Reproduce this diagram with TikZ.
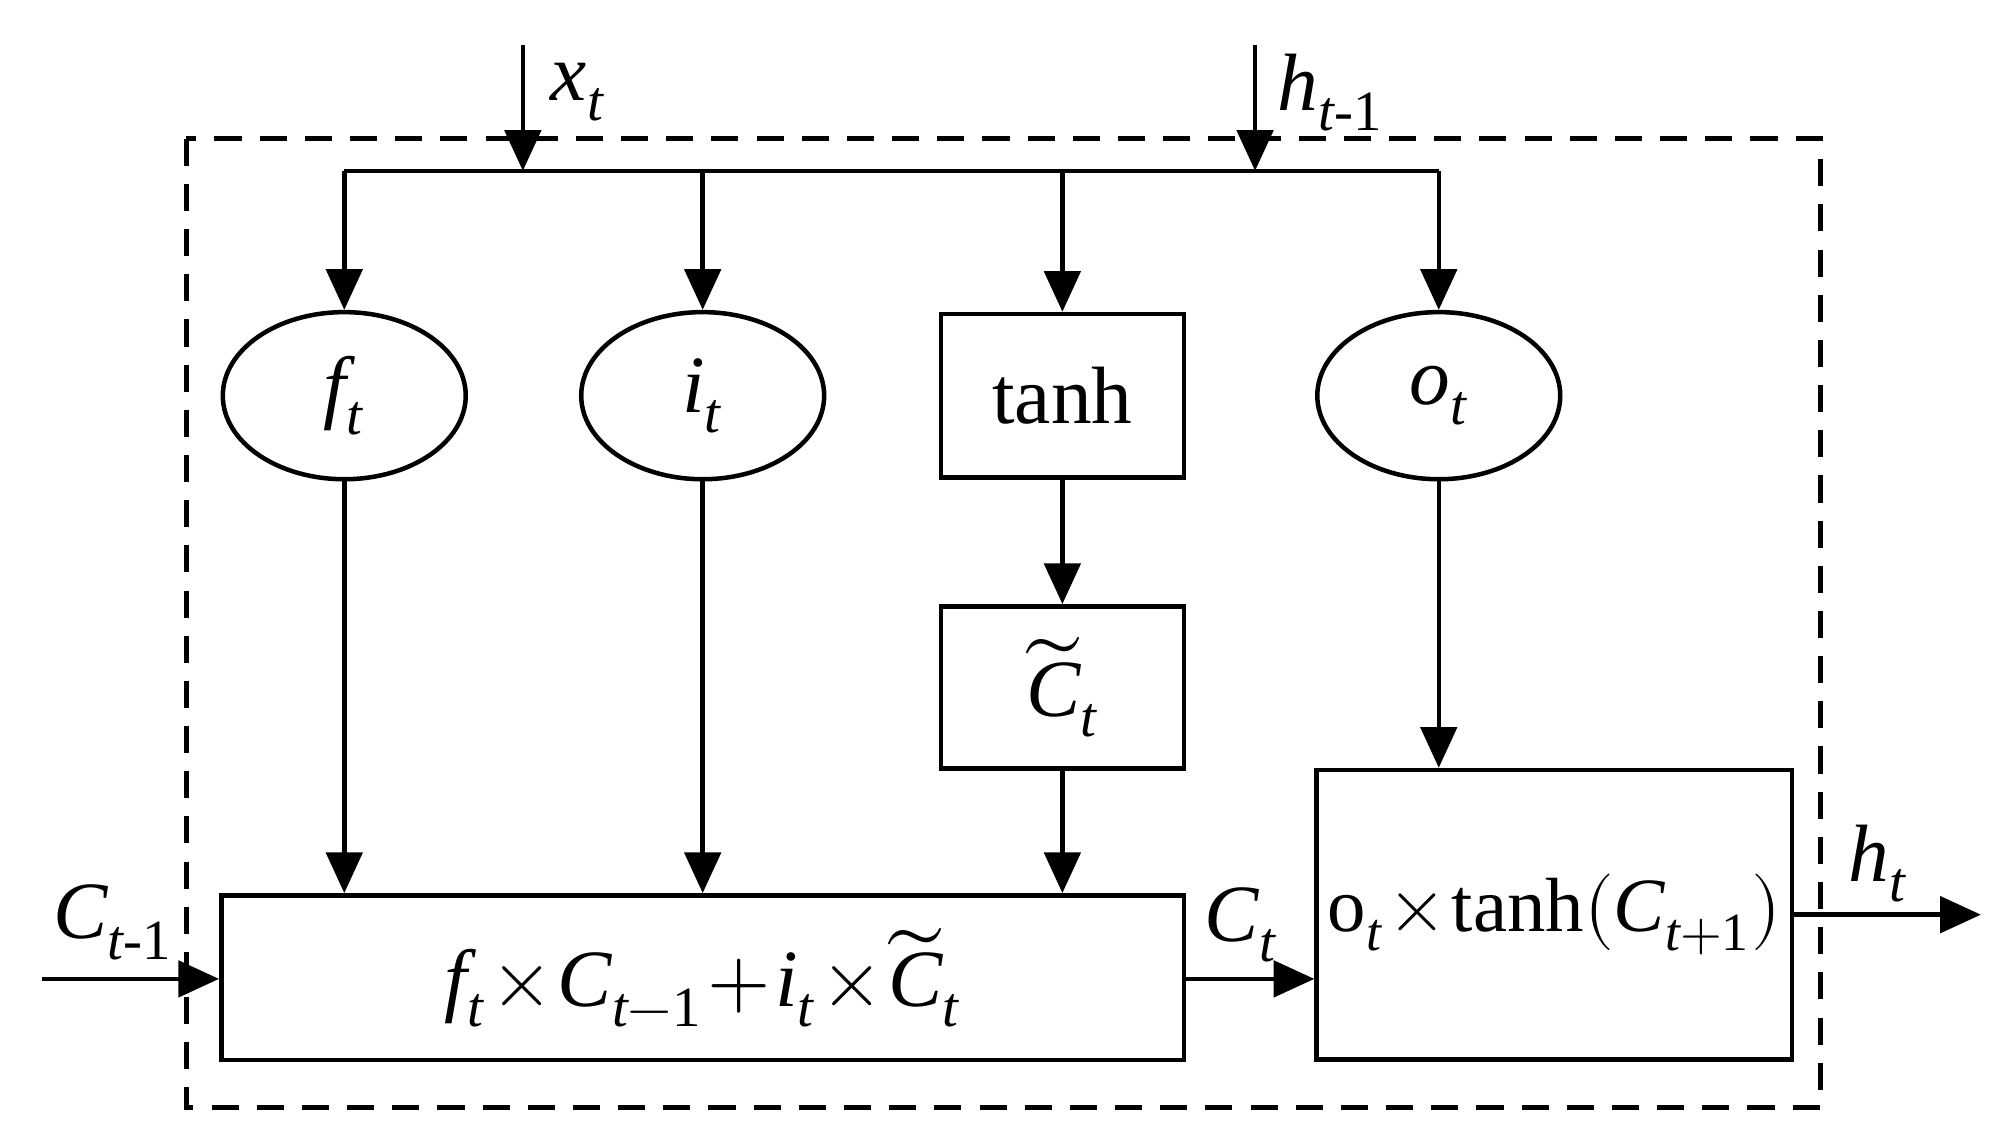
\documentclass[tikz,border=0pt]{standalone}
\usepackage{fontspec}
\setmainfont{Liberation Serif}
\usepackage{unicode-math}
\setmathfont{Latin Modern Math}
\setmathfont[range=it/{latin,Latin}]{Liberation Serif Italic}
\setmathfont[range=up/{latin,Latin,num}]{Liberation Serif}
\usetikzlibrary{arrows.meta,shapes.geometric}
\begin{document}
\begin{tikzpicture}[x=0.01cm,y=-0.01cm,
  every node/.style={font=\fontsize{18}{21}\selectfont},
  ln/.style={line width=1pt},
  ar/.style={ln,-{Triangle[length=9pt,width=8pt]}},
  box/.style={draw,ln,inner sep=0}]
\useasboundingbox (0,0) rectangle (1560,890);
\draw[ln,dashed,dash pattern=on 6pt off 4pt] (145,108) rectangle (1417,862);
% nodes
\node[draw,ln,ellipse,minimum width=1.89cm,minimum height=1.3cm] (f) at (268,308) {$f_t$};
\node[draw,ln,ellipse,minimum width=1.89cm,minimum height=1.3cm] (i) at (547,308) {$i_t$};
\node[draw,ln,ellipse,minimum width=1.89cm,minimum height=1.3cm] (o) at (1120,308) {$o_t$};
\node[box,minimum width=1.89cm,minimum height=1.27cm] (tanh) at (827,308) {tanh};
\node[box,minimum width=1.89cm,minimum height=1.26cm] (ct) at (827,535) {$\widetilde{C}_t$};
\node[box,minimum width=7.49cm,minimum height=1.28cm] (big) at (547,761) {\medmuskip=1mu\thickmuskip=1mu$f_t\times C_{t-1}+i_t\times \widetilde{C}_t$};
\node[box,minimum width=3.70cm,minimum height=2.25cm,text width=3.6cm,align=center,font=\fontsize{17}{20}\selectfont] (out) at (1210,712) {\medmuskip=1mu o$_t\times\mathrm{tanh}(C_{t+1})$};
% bus
\coordinate (b1) at (268,133); \coordinate (b4) at (1120,133);
\coordinate (xs) at (407,35); \coordinate (xe) at (407,133);
\coordinate (hs) at (977,35); \coordinate (he) at (977,133);
\draw[ln] (b1) -- (b4);
\draw[ar] (xs) -- (xe);
\draw[ar] (hs) -- (he);
\node at (450,72) {$x_t$};
\node at (1036,72) {$h_{t\text{-}1}$};
\draw[ar] (b1) -- (f.north);
\draw[ar] (547,133) -- (i.north);
\draw[ar] (827,133) -- (tanh.north);
\draw[ar] (b4) -- (o.north);
\draw[ar] (f.south) -- (f.south |- big.north);
\draw[ar] (i.south) -- (i.south |- big.north);
\draw[ar] (tanh) -- (ct);
\draw[ar] (ct) -- (ct.south |- big.north);
\draw[ar] (o.south) -- (out.north -| o.south);
\coordinate (cin) at (33,762);
\draw[ar] (cin) -- (big.west |- cin);
\node at (88,718) {$C_{t\text{-}1}$};
\draw[ar] (big.east |- cin) -- (out.west |- cin);
\node at (966,720) {$C_t$};
\coordinate (hout) at (1542,712);
\draw[ar] (out.east) -- (hout);
\node at (1462,672) {$h_t$};
\end{tikzpicture}
\end{document}
